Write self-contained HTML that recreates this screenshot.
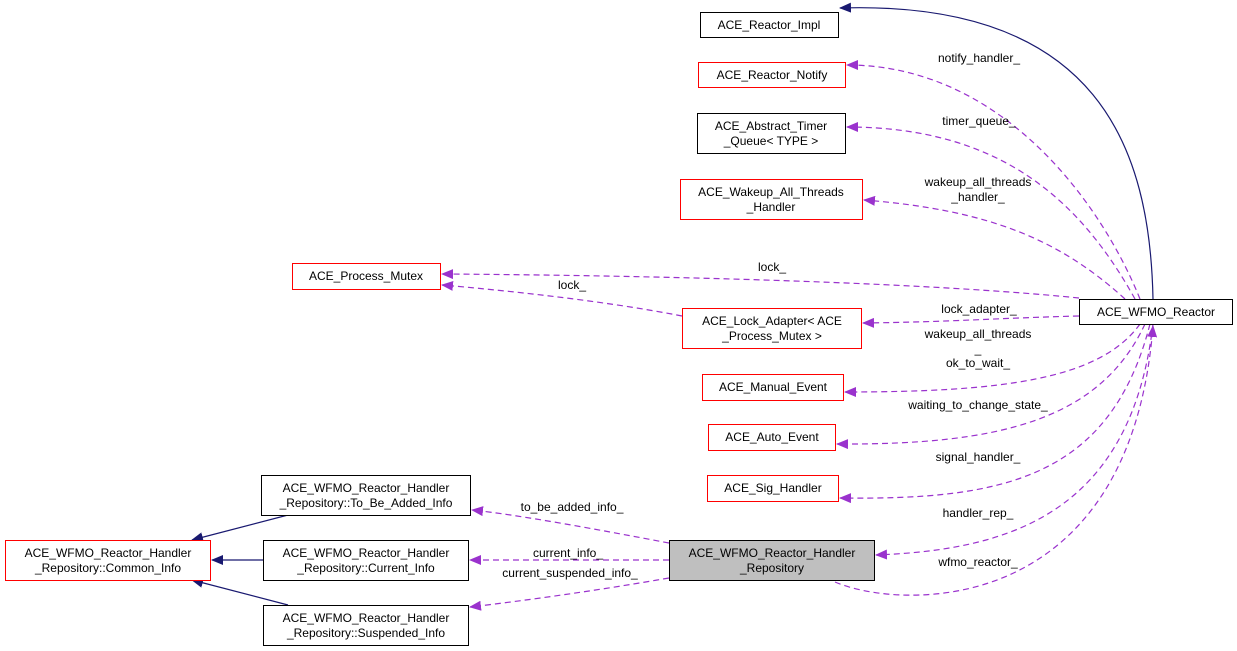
<!DOCTYPE html>
<html><head><meta charset="utf-8"><style>
html,body{margin:0;padding:0;background:#fff;}
svg{display:block;}
text{font-family:"Liberation Sans",sans-serif;font-size:12px;fill:#000;}
</style></head><body>
<svg width="1237" height="651" viewBox="0 0 1237 651" xmlns="http://www.w3.org/2000/svg">
<defs>
<marker id="pa" markerWidth="12" markerHeight="10" refX="11" refY="5" orient="auto" markerUnits="userSpaceOnUse"><path d="M0,0 L12,5 L0,10 Z" fill="#9a32cd"/></marker>
<marker id="na" markerWidth="12" markerHeight="10" refX="11" refY="5" orient="auto" markerUnits="userSpaceOnUse"><path d="M0,0 L12,5 L0,10 Z" fill="#191970"/></marker>
</defs>
<g fill="none" stroke="#191970" stroke-width="1.2">
<path d="M1153,299 C1150,150 1100,0 840,8" marker-end="url(#na)"/>
<path d="M288,515 L192,540" marker-end="url(#na)"/>
<path d="M263,560 L212,560" marker-end="url(#na)"/>
<path d="M288,605 L192,580" marker-end="url(#na)"/>
</g>
<g fill="none" stroke="#9a32cd" stroke-width="1.2" stroke-dasharray="6,4">
<path d="M1140,299 C1100,200 1000,65 847,65" marker-end="url(#pa)"/>
<path d="M1135,299 C1080,200 1000,127 847,127" marker-end="url(#pa)"/>
<path d="M1125,299 C1060,240 990,210 864,200" marker-end="url(#pa)"/>
<path d="M1079,298 C900,280 600,275 442,274" marker-end="url(#pa)"/>
<path d="M1079,316 C1000,318 950,322 863,323" marker-end="url(#pa)"/>
<path d="M1140,324 C1100,380 1000,392 845,392" marker-end="url(#pa)"/>
<path d="M1145,324 C1100,420 1000,445 837,444" marker-end="url(#pa)"/>
<path d="M1150,324 C1110,480 1000,500 840,498" marker-end="url(#pa)"/>
<path d="M1153,324 C1130,520 1000,550 876,555" marker-end="url(#pa)"/>
<path d="M835,582 C900,610 1130,620 1153,326" marker-end="url(#pa)"/>
<path d="M682,316 C600,300 500,290 442,285" marker-end="url(#pa)"/>
<path d="M669,543 C600,530 520,515 472,510" marker-end="url(#pa)"/>
<path d="M669,560 L470,560" marker-end="url(#pa)"/>
<path d="M669,578 C600,590 530,600 470,607" marker-end="url(#pa)"/>
</g>
<g stroke-width="1" fill="#fff">
<rect x="700.5" y="12.5" width="138" height="25" stroke="#000"/>
<rect x="698.5" y="62.5" width="147" height="25" stroke="#f00"/>
<rect x="697.5" y="113.5" width="148" height="40" stroke="#000"/>
<rect x="680.5" y="179.5" width="182" height="40" stroke="#f00"/>
<rect x="292.5" y="263.5" width="148" height="26" stroke="#f00"/>
<rect x="682.5" y="308.5" width="179" height="40" stroke="#f00"/>
<rect x="1079.5" y="299.5" width="153" height="25" stroke="#000"/>
<rect x="702.5" y="374.5" width="141" height="26" stroke="#f00"/>
<rect x="708.5" y="424.5" width="127" height="26" stroke="#f00"/>
<rect x="707.5" y="475.5" width="131" height="26" stroke="#f00"/>
<rect x="261.5" y="475.5" width="209" height="40" stroke="#000"/>
<rect x="5.5" y="540.5" width="205" height="40" stroke="#f00"/>
<rect x="263.5" y="540.5" width="205" height="40" stroke="#000"/>
<rect x="669.5" y="540.5" width="205" height="40" stroke="#000" fill="#bfbfbf"/>
<rect x="263.5" y="605.5" width="205" height="40" stroke="#000"/>
</g>
<g text-anchor="middle">
<text x="769" y="29">ACE_Reactor_Impl</text>
<text x="772" y="79">ACE_Reactor_Notify</text>
<text x="771" y="130">ACE_Abstract_Timer</text><text x="771" y="145">_Queue&lt; TYPE &gt;</text>
<text x="771" y="196">ACE_Wakeup_All_Threads</text><text x="771" y="211">_Handler</text>
<text x="366" y="280">ACE_Process_Mutex</text>
<text x="772" y="325">ACE_Lock_Adapter&lt; ACE</text><text x="772" y="340">_Process_Mutex &gt;</text>
<text x="1156" y="316">ACE_WFMO_Reactor</text>
<text x="773" y="391">ACE_Manual_Event</text>
<text x="772" y="441">ACE_Auto_Event</text>
<text x="773" y="492">ACE_Sig_Handler</text>
<text x="366" y="492">ACE_WFMO_Reactor_Handler</text><text x="366" y="507">_Repository::To_Be_Added_Info</text>
<text x="108" y="557">ACE_WFMO_Reactor_Handler</text><text x="108" y="572">_Repository::Common_Info</text>
<text x="366" y="557">ACE_WFMO_Reactor_Handler</text><text x="366" y="572">_Repository::Current_Info</text>
<text x="772" y="557">ACE_WFMO_Reactor_Handler</text><text x="772" y="572">_Repository</text>
<text x="366" y="622">ACE_WFMO_Reactor_Handler</text><text x="366" y="637">_Repository::Suspended_Info</text>
<text x="979" y="62">notify_handler_</text>
<text x="979" y="125">timer_queue_</text>
<text x="978" y="186">wakeup_all_threads</text><text x="978" y="201">_handler_</text>
<text x="772" y="271">lock_</text>
<text x="572" y="289">lock_</text>
<text x="979" y="313">lock_adapter_</text>
<text x="978" y="338">wakeup_all_threads</text><text x="978" y="353">_</text>
<text x="978" y="367">ok_to_wait_</text>
<text x="978" y="409">waiting_to_change_state_</text>
<text x="978" y="461">signal_handler_</text>
<text x="978" y="517">handler_rep_</text>
<text x="978" y="566">wfmo_reactor_</text>
<text x="572" y="511">to_be_added_info_</text>
<text x="568" y="557">current_info_</text>
<text x="570" y="577">current_suspended_info_</text>
</g>
</svg>
</body></html>
